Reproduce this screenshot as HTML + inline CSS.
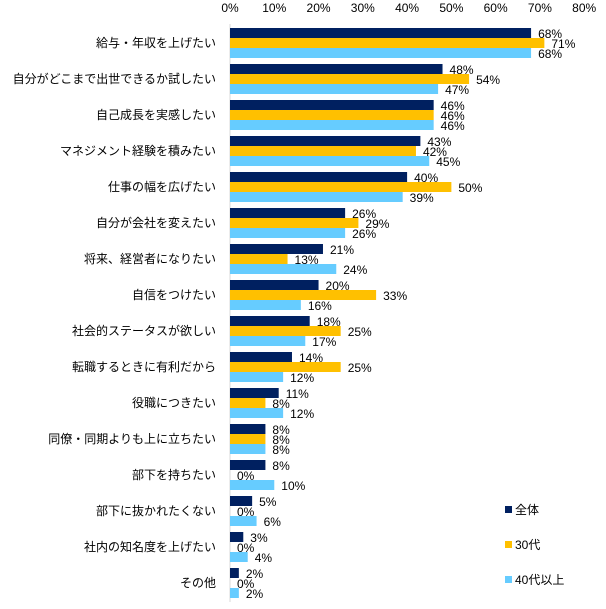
<!DOCTYPE html>
<html><head><meta charset="utf-8"><style>
body{margin:0;background:#fff;}
svg text{font-family:"Liberation Sans","Noto Sans CJK JP",sans-serif;font-size:12px;fill:#000;}
</style></head><body>
<svg id="chart" width="606" height="604" xmlns="http://www.w3.org/2000/svg"></svg>
<script>
const categories=["給与・年収を上げたい","自分がどこまで出世できるか試したい","自己成長を実感したい","マネジメント経験を積みたい","仕事の幅を広げたい","自分が会社を変えたい","将来、経営者になりたい","自信をつけたい","社会的ステータスが欲しい","転職するときに有利だから","役職につきたい","同僚・同期よりも上に立ちたい","部下を持ちたい","部下に抜かれたくない","社内の知名度を上げたい","その他"];
const seriesAll=[68,48,46,43,40,26,21,20,18,14,11,8,8,5,3,2];
const series30=[71,54,46,42,50,29,13,33,25,25,8,8,0,0,0,0];
const series40=[68,47,46,45,39,26,24,16,17,12,12,8,10,6,4,2];
const seriesNames=["全体","30代","40代以上"];
const tickValues=[0,10,20,30,40,50,60,70,80];
const colors=["#002060","#FFC000","#66CCFF"];
const svg=document.getElementById('chart');
const NS="http://www.w3.org/2000/svg";
const x0=230,pxPer=4.4275,top0=28,step=36,bh=10;
const xs=v=>x0+v*pxPer;
function mk(t,a){const e=document.createElementNS(NS,t);for(const k in a)e.setAttribute(k,a[k]);svg.appendChild(e);return e;}
tickValues.forEach(v=>{const t=mk('text',{x:xs(v),y:12,'text-anchor':'middle'});t.textContent=v+'%';

});
const ax=mk('line',{x1:x0,y1:24,x2:x0,y2:602,stroke:'#d9d9d9','stroke-width':1});


const all=[seriesAll,series30,series40];
categories.forEach((c,i)=>{
 const gy=top0+i*step;
 const l=mk('text',{x:216,y:gy+19,'text-anchor':'end'});l.textContent=c;
 
 
 all.forEach((s,j)=>{
  const y=gy+j*bh;
  const r=mk('rect',{x:x0,y:y,width:Math.max(0,xs(s[i])-x0),height:bh,fill:colors[j]});
  
  
  const t=mk('text',{x:xs(s[i])+7,y:y+10});t.textContent=s[i]+'%';
  
  
 });
});
seriesNames.forEach((n,j)=>{
 const y=506+j*35;
 const r=mk('rect',{x:505,y:y,width:7,height:7,fill:colors[j]});
 
 
 const t=mk('text',{x:515,y:y+8});t.textContent=n;
 
 
});
</script>
</body></html>
